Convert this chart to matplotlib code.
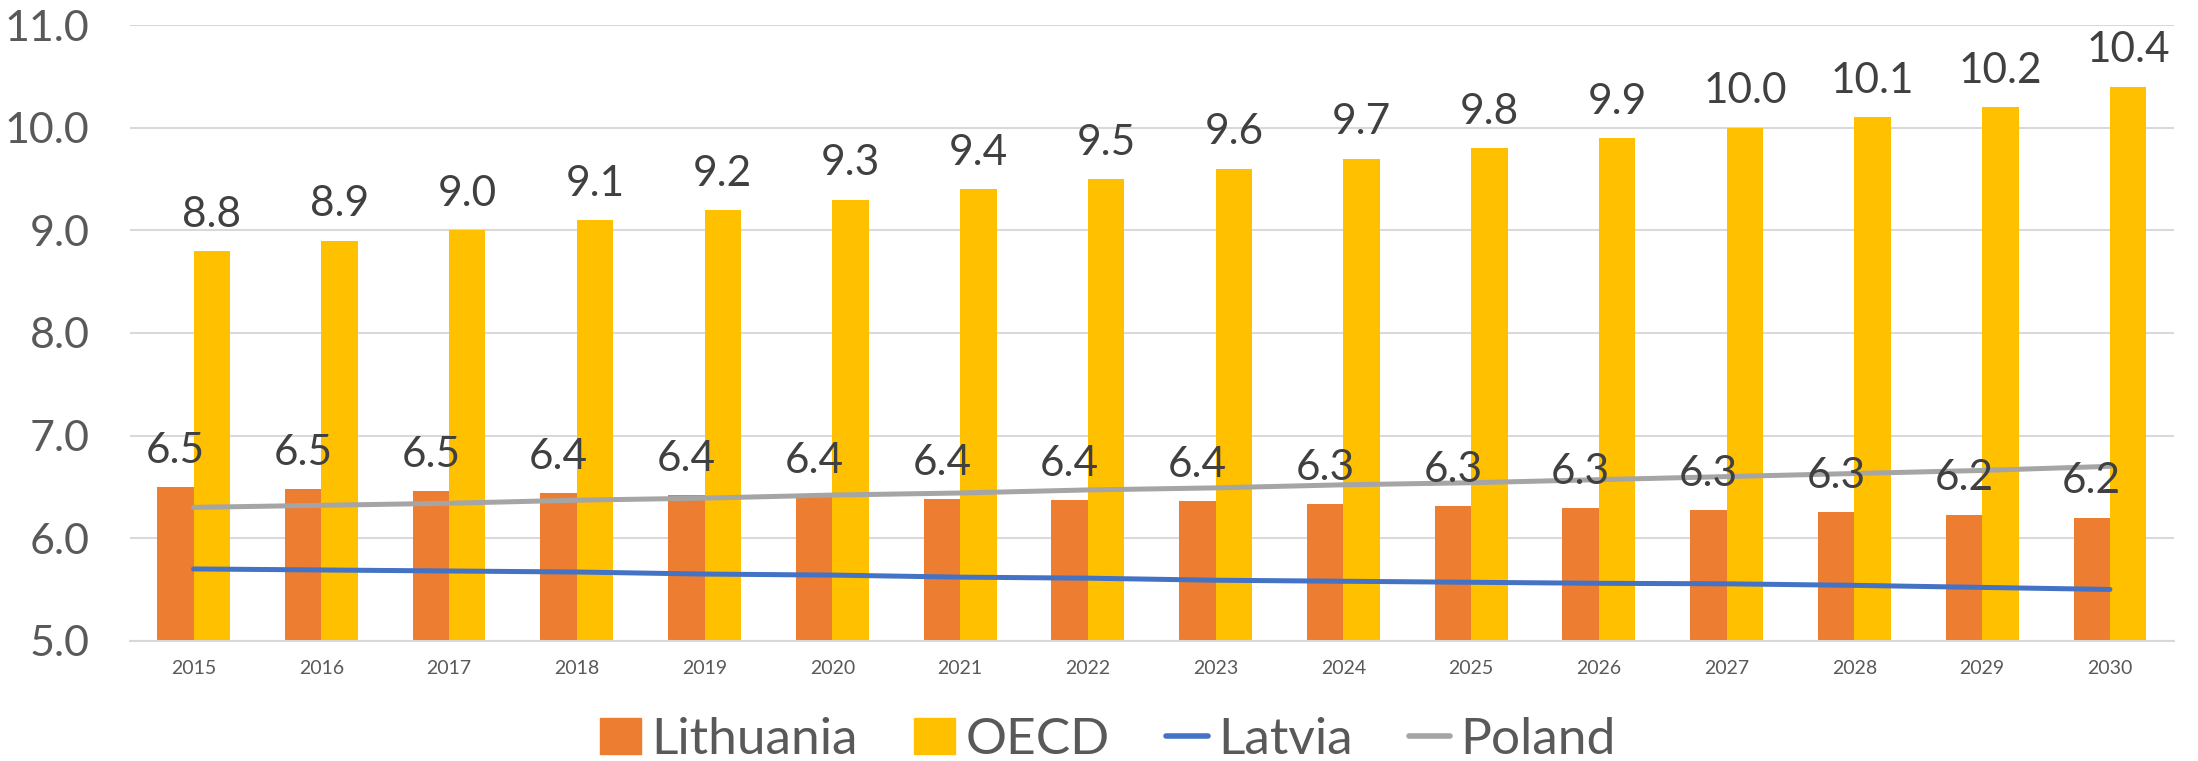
import matplotlib
matplotlib.use("Agg")
import matplotlib.pyplot as plt
import numpy as np
from matplotlib.lines import Line2D
from matplotlib.patches import Patch

years = [str(y) for y in range(2015, 2031)]
lithuania = [6.50, 6.48, 6.46, 6.44, 6.42, 6.40, 6.38, 6.37, 6.36, 6.33, 6.31, 6.29, 6.27, 6.255, 6.23, 6.20]
oecd = [8.8, 8.9, 9.0, 9.1, 9.2, 9.3, 9.4, 9.5, 9.6, 9.7, 9.8, 9.9, 10.0, 10.1, 10.2, 10.4]
latvia = [5.70, 5.69, 5.68, 5.67, 5.65, 5.64, 5.62, 5.61, 5.59, 5.58, 5.57, 5.56, 5.555, 5.54, 5.52, 5.50]
poland = [6.30, 6.32, 6.34, 6.37, 6.39, 6.42, 6.44, 6.47, 6.49, 6.52, 6.54, 6.57, 6.60, 6.63, 6.66, 6.70]
yticks = [5.0, 6.0, 7.0, 8.0, 9.0, 10.0, 11.0]

plt.rcParams['font.family'] = ['Lato', 'DejaVu Sans']

C_LIT = '#ED7D31'
C_OECD = '#FFC000'
C_LAT = '#4472C4'
C_POL = '#A5A5A5'
TXT = '#595959'
LBL = '#404040'

fig = plt.figure(figsize=(21.98, 7.61), dpi=100)
ax = fig.add_axes([0.059, 0.158, 0.930, 0.809])

x = np.arange(len(years))
w = 0.285
ax.bar(x - w / 2, lithuania, width=w, color=C_LIT, zorder=2, label='Lithuania')
ax.bar(x + w / 2, oecd, width=w, color=C_OECD, zorder=2, label='OECD')
ax.plot(x, latvia, color=C_LAT, lw=3.6, zorder=3, solid_capstyle='round', label='Latvia')
ax.plot(x, poland, color=C_POL, lw=3.6, zorder=3, solid_capstyle='round', label='Poland')

for xi, v in zip(x, lithuania):
    ax.annotate(f"{v:.1f}", (xi - w / 2, v), xytext=(0, 17.5), textcoords='offset points',
                ha='center', va='baseline', fontsize=30.5, color=LBL, zorder=4)
for xi, v in zip(x, oecd):
    ax.annotate(f"{v:.1f}", (xi + w / 2, v), xytext=(0, 17.5), textcoords='offset points',
                ha='center', va='baseline', fontsize=30.5, color=LBL, zorder=4)

ax.set_xlim(-0.5, len(years) - 0.5)
ax.set_ylim(5.0, 11.0)
ax.set_yticks(yticks)
ax.set_yticklabels([f"{t:.1f}" for t in yticks])
ax.set_xticks(x)
ax.set_xticklabels(years)
ax.tick_params(axis='y', length=0, pad=29, labelsize=31, labelcolor=TXT)
ax.tick_params(axis='x', length=0, pad=14, labelsize=14, labelcolor=TXT)
ax.grid(axis='y', color='#D9D9D9', lw=1.5, zorder=0)
ax.set_axisbelow(True)
for s in ['top', 'right', 'left']:
    ax.spines[s].set_visible(False)
ax.spines['bottom'].set_color('#D9D9D9')
ax.spines['bottom'].set_linewidth(1.5)

handles = [Patch(color=C_LIT), Patch(color=C_OECD),
           Line2D([], [], color=C_LAT, lw=4.0, solid_capstyle='round'),
           Line2D([], [], color=C_POL, lw=4.0, solid_capstyle='round')]
fig.legend(handles, ['Lithuania', 'OECD', 'Latvia', 'Poland'], loc='center',
           bbox_to_anchor=(0.504, 0.028), ncol=4, frameon=False, fontsize=37,
           labelcolor=TXT, handlelength=0.8, handleheight=0.7, handletextpad=0.2,
           columnspacing=1.1)

fig.savefig('out.png', dpi=100)
